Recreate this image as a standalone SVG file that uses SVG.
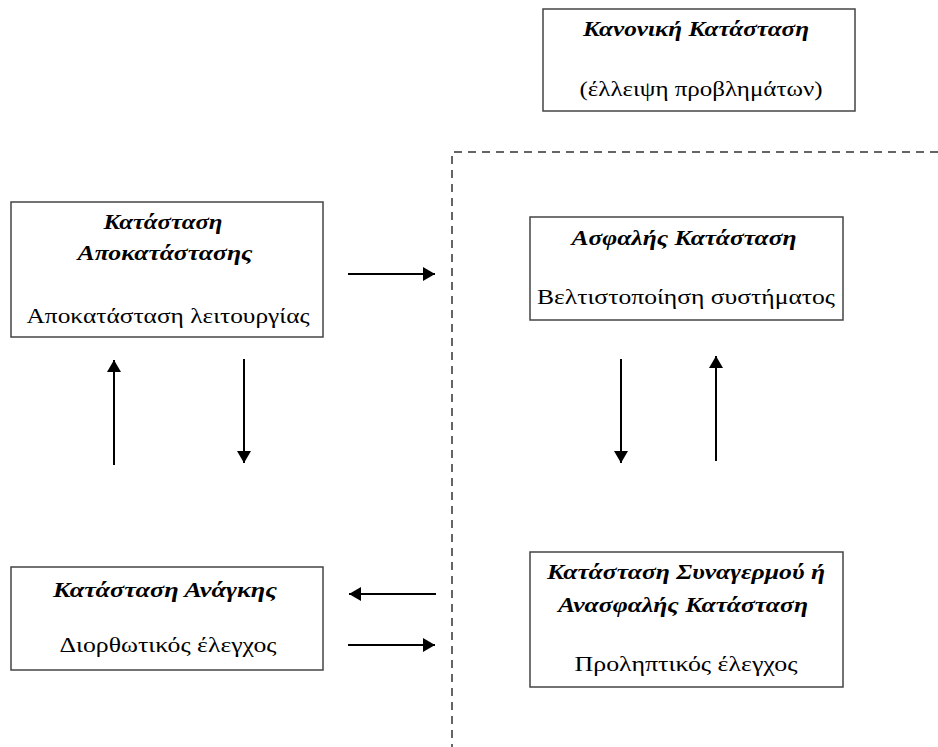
<svg xmlns="http://www.w3.org/2000/svg" width="938" height="747" viewBox="0 0 938 747">
  <defs>
    <marker id="head" viewBox="0 0 12 14" refX="12" refY="7" markerWidth="12" markerHeight="14" markerUnits="userSpaceOnUse" orient="auto">
      <path d="M0,0 L12,7 L0,14 Z" fill="#000"/>
    </marker>
    <style>
      .box { fill: #fff; stroke: #444; stroke-width: 1.5; }
      .t { font-family: "Liberation Serif", "Times New Roman", serif; font-size: 22px; fill: #000; text-anchor: middle; }
      .h { font-weight: bold; font-style: italic; }
      .arr { stroke: #000; stroke-width: 2; fill: none; marker-end: url(#head); }
      .dash { stroke: #333; stroke-width: 1.5; fill: none; stroke-dasharray: 8 6; }
    </style>
  </defs>
  <rect width="938" height="747" fill="#fff"/>

  <g id="normal">
    <rect class="box" x="543" y="9" width="312" height="102"/>
    <text class="t h" x="696" y="36" textLength="226" lengthAdjust="spacingAndGlyphs">Κανονική Κατάσταση</text>
    <text class="t" x="701" y="96" textLength="243" lengthAdjust="spacingAndGlyphs">(έλλειψη προβλημάτων)</text>
  </g>

  <g id="restoration">
    <rect class="box" x="11" y="202" width="312" height="135"/>
    <text class="t h" x="163" y="229" textLength="119" lengthAdjust="spacingAndGlyphs">Κατάσταση</text>
    <text class="t h" x="165" y="260" textLength="175" lengthAdjust="spacingAndGlyphs">Αποκατάστασης</text>
    <text class="t" x="168" y="323" textLength="283" lengthAdjust="spacingAndGlyphs">Αποκατάσταση λειτουργίας</text>
  </g>

  <g id="secure">
    <rect class="box" x="530" y="217" width="313" height="103"/>
    <text class="t h" x="684" y="245" textLength="225" lengthAdjust="spacingAndGlyphs">Ασφαλής Κατάσταση</text>
    <text class="t" x="686" y="304" textLength="298" lengthAdjust="spacingAndGlyphs">Βελτιστοποίηση συστήματος</text>
  </g>

  <g id="emergency">
    <rect class="box" x="11" y="567" width="312" height="103"/>
    <text class="t h" x="165" y="597" textLength="224" lengthAdjust="spacingAndGlyphs">Κατάσταση Ανάγκης</text>
    <text class="t" x="168" y="652" textLength="217" lengthAdjust="spacingAndGlyphs">Διορθωτικός έλεγχος</text>
  </g>

  <g id="alert">
    <rect class="box" x="530" y="552" width="313" height="135"/>
    <text class="t h" x="686" y="579" textLength="278" lengthAdjust="spacingAndGlyphs">Κατάσταση Συναγερμού ή</text>
    <text class="t h" x="683" y="612" textLength="250" lengthAdjust="spacingAndGlyphs">Ανασφαλής Κατάσταση</text>
    <text class="t" x="686" y="671" textLength="223" lengthAdjust="spacingAndGlyphs">Προληπτικός έλεγχος</text>
  </g>

  <g id="connectors">
    <!-- boundary of the monitored region -->
    <path class="dash" d="M938,152 H452 V747"/>
    <!-- horizontal transitions -->
    <line class="arr" x1="348" y1="274" x2="435" y2="274"/>
    <line class="arr" x1="436" y1="594" x2="349" y2="594"/>
    <line class="arr" x1="348" y1="645" x2="435" y2="645"/>
    <!-- vertical transitions, left column -->
    <line class="arr" x1="114" y1="465" x2="114" y2="360"/>
    <line class="arr" x1="244" y1="359" x2="244" y2="463"/>
    <!-- vertical transitions, right column -->
    <line class="arr" x1="621" y1="359" x2="621" y2="463"/>
    <line class="arr" x1="716" y1="461" x2="716" y2="356"/>
  </g>
</svg>
